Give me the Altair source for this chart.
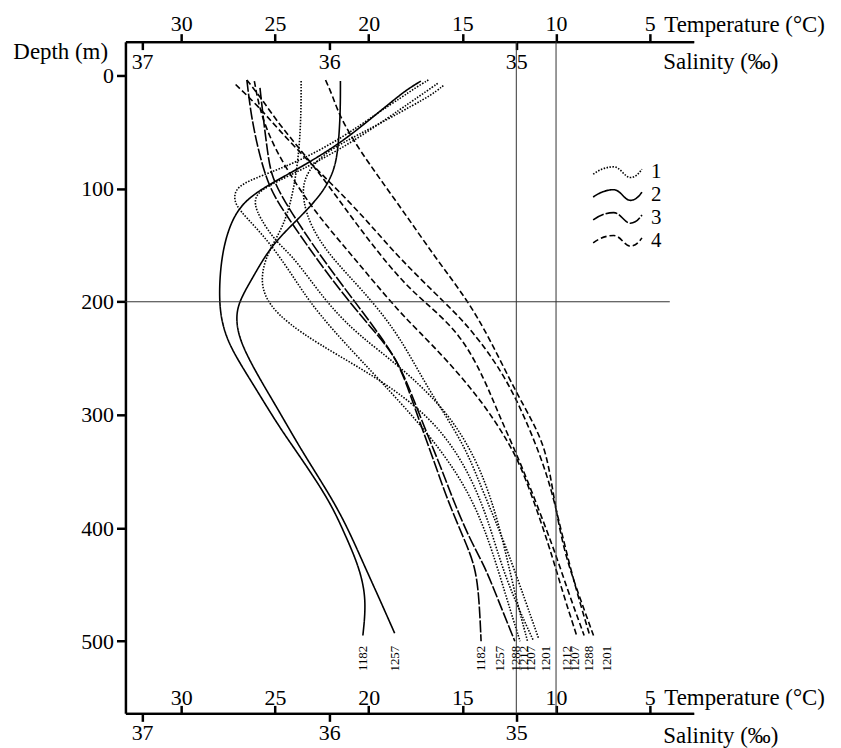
import altair as alt
import pandas as pd

FONT = "Liberation Serif"

# ---------------- frame (scale domains chosen to match the original frame) -------------
W, H = 571, 675
SAL_DOMAIN = [34.052, 37.089]     # drawn reversed (high salinity on the left)
TEMP_DOMAIN = [2.655, 32.98]      # drawn reversed
DEPTH_DOMAIN = [-29.9, 563.8]     # depth increases downward

# ---------------- tick values --------------------------------------------------------
depth_ticks = [0, 100, 200, 300, 400, 500]
temp_ticks = [30, 25, 20, 15, 10, 5]
sal_ticks = [37, 36, 35]

# ---------------- salinity profiles (‰) ------------------------------------------------
s1182_depth = [5, 12, 21, 40, 61, 82, 98, 113, 135, 164, 199, 222, 243, 272, 310, 331, 375, 404, 434, 463, 495]
s1182_sal = [35.51, 35.58, 35.65, 35.79, 35.95, 36.16, 36.34, 36.47, 36.54, 36.58, 36.59, 36.57, 36.52, 36.41, 36.27, 36.18, 36.00, 35.92, 35.84, 35.80, 35.82]

s1257_depth = [5, 32, 61, 84, 105, 126, 150, 179, 199, 214, 234, 263, 296, 331, 375, 404, 434, 463, 493]
s1257_sal = [35.94, 35.94, 35.95, 35.97, 36.04, 36.16, 36.31, 36.41, 36.48, 36.50, 36.48, 36.39, 36.27, 36.15, 35.98, 35.89, 35.81, 35.73, 35.65]

s1288_depth = [4, 11, 19, 33, 54, 76, 89, 97, 105, 115, 126, 142, 159, 181, 201, 225, 250, 287, 319, 353, 384, 419, 463, 500]
s1288_sal = [35.47, 35.54, 35.61, 35.74, 35.92, 36.16, 36.37, 36.48, 36.51, 36.50, 36.44, 36.35, 36.27, 36.18, 36.10, 35.98, 35.84, 35.63, 35.46, 35.31, 35.21, 35.13, 35.05, 34.98]

s1212_depth = [7, 14, 23, 38, 58, 76, 89, 98, 105, 114, 126, 146, 159, 181, 205, 230, 256, 296, 340, 381, 419, 463, 500]
s1212_sal = [35.42, 35.48, 35.56, 35.69, 35.87, 36.06, 36.22, 36.33, 36.39, 36.40, 36.37, 36.29, 36.20, 36.10, 35.99, 35.84, 35.63, 35.37, 35.21, 35.12, 35.06, 35.00, 34.94]

s1207_depth = [5, 32, 67, 102, 133, 159, 184, 203, 219, 237, 258, 280, 309, 348, 392, 445, 499]
s1207_sal = [36.15, 36.15, 36.16, 36.19, 36.24, 36.34, 36.37, 36.32, 36.22, 36.06, 35.84, 35.63, 35.42, 35.26, 35.15, 35.06, 34.91]

s1201_depth = [9, 18, 26, 39, 52, 64, 77, 93, 111, 133, 159, 190, 228, 278, 325, 363, 398, 432, 498]
s1201_sal = [35.39, 35.46, 35.55, 35.69, 35.84, 35.98, 36.08, 36.14, 36.14, 36.10, 36.00, 35.82, 35.63, 35.47, 35.28, 35.19, 35.10, 35.02, 34.88]

# ---------------- temperature profiles (°C) --------------------------------------------
t1182_depth = [4, 32, 58, 84, 106, 133, 164, 199, 230, 252, 296, 346, 375, 410, 434, 463, 500]
t1182_temp = [26.5, 26.3, 26.0, 25.6, 25.1, 24.0, 22.7, 21.1, 19.5, 18.4, 17.5, 16.4, 15.8, 14.9, 14.3, 14.1, 14.0]

t1257_depth = [11, 41, 67, 89, 111, 137, 168, 203, 234, 260, 304, 348, 375, 410, 434, 463, 500]
t1257_temp = [25.8, 25.6, 25.4, 25.2, 24.5, 23.5, 22.2, 20.6, 19.2, 18.2, 17.2, 16.1, 15.5, 14.6, 13.8, 13.1, 12.2]

t1201_depth = [4, 19, 34, 64, 114, 162, 199, 234, 278, 307, 333, 375, 419, 454, 495]
t1201_temp = [22.3, 21.9, 21.6, 20.6, 18.4, 16.4, 14.7, 13.5, 12.2, 11.2, 10.5, 10.1, 9.6, 8.9, 8.0]

t1288_depth = [8, 27, 48, 76, 102, 130, 161, 203, 223, 267, 328, 363, 390, 445, 495]
t1288_temp = [27.1, 25.9, 24.8, 23.2, 21.6, 20.0, 18.4, 15.8, 14.6, 12.6, 11.0, 10.3, 9.9, 9.1, 8.2]

t1207_depth = [4, 23, 43, 84, 133, 179, 199, 228, 269, 298, 331, 363, 419, 454, 495]
t1207_temp = [26.5, 25.6, 24.8, 22.7, 20.6, 18.4, 17.1, 15.1, 13.8, 13.1, 12.2, 11.4, 10.1, 9.4, 8.5]

t1212_depth = [5, 32, 62, 93, 124, 155, 181, 208, 225, 252, 287, 322, 351, 419, 454, 495]
t1212_temp = [26.1, 25.8, 25.1, 24.0, 22.7, 21.1, 19.8, 18.4, 17.4, 15.8, 14.0, 12.6, 11.7, 10.3, 9.7, 8.9]

# ---------------- station labels under the curve ends ----------------------------------
sal_label_text = ["1182", "1257", "1288", "1212", "1207", "1201"]
sal_label_pos = [35.82, 35.65, 35.00, 34.96, 34.92, 34.84]
temp_label_text = ["1182", "1257", "1212", "1207", "1288", "1201"]
temp_label_pos = [14.02, 13.01, 9.40, 8.97, 8.23, 7.28]
label_depth = 504

# reference lines
ref_sal = 35
ref_temp = 10
ref_depth = 200
ref_depth_end_temp = 3.93

# ---------------- tables ---------------------------------------------------------------
def rows(station, kind, depths, values, col):
    return [{"station": station, "type": kind, "depth": d, col: v} for d, v in zip(depths, values)]

sal_rows = (rows("1182", "2", s1182_depth, s1182_sal, "sal") + rows("1257", "2", s1257_depth, s1257_sal, "sal")
            + rows("1288", "1", s1288_depth, s1288_sal, "sal") + rows("1212", "1", s1212_depth, s1212_sal, "sal")
            + rows("1207", "1", s1207_depth, s1207_sal, "sal") + rows("1201", "1", s1201_depth, s1201_sal, "sal"))
temp_rows = (rows("1182", "3", t1182_depth, t1182_temp, "temp") + rows("1257", "3", t1257_depth, t1257_temp, "temp")
             + rows("1201", "4", t1201_depth, t1201_temp, "temp") + rows("1288", "4", t1288_depth, t1288_temp, "temp")
             + rows("1207", "4", t1207_depth, t1207_temp, "temp") + rows("1212", "4", t1212_depth, t1212_temp, "temp"))
sal_df = pd.DataFrame(sal_rows)
temp_df = pd.DataFrame(temp_rows)
sal_lab_df = pd.DataFrame({"label": sal_label_text, "sal": sal_label_pos, "depth": [label_depth] * 6})
temp_lab_df = pd.DataFrame({"label": temp_label_text, "temp": temp_label_pos, "depth": [label_depth] * 6})

# ---------------- encodings ------------------------------------------------------------
common_axis = dict(labelFont=FONT, labelFontSize=22, titleFont=FONT, titleFontSize=23,
                   titleFontWeight="normal", domainColor="black", domainWidth=2.5,
                   tickColor="black", tickWidth=2.5, tickSize=8, labelColor="black",
                   titleColor="black", grid=False, labelFlush=False, labelOverlap=False)

axis_sal_bottom = alt.Axis(orient="bottom", values=sal_ticks, format="d", labelPadding=1,
                           title="Salinity (‰)", titleX=540, titleY=29, titleAlign="left",
                           titleBaseline="alphabetic", **common_axis)
axis_sal_top = alt.Axis(orient="bottom", offset=-H, values=sal_ticks, format="d", labelPadding=2,
                        title="Salinity (‰)", titleX=540, titleY=27, titleAlign="left",
                        titleBaseline="alphabetic", **common_axis)
axis_temp_top = alt.Axis(orient="top", values=temp_ticks, format="d", labelPadding=-2,
                         title="Temperature (°C)", titleX=541, titleY=-10, titleAlign="left",
                         titleBaseline="alphabetic", **common_axis)
axis_temp_bottom = alt.Axis(orient="top", offset=-H, values=temp_ticks, format="d", labelPadding=-4,
                            title="Temperature (°C)", titleX=541, titleY=-9, titleAlign="left",
                            titleBaseline="alphabetic", **common_axis)
axis_depth = alt.Axis(orient="left", values=depth_ticks, format="d", labelPadding=3,
                      title="Depth (m)", titleAngle=0, titleX=-18, titleY=17, titleAlign="right",
                      titleBaseline="alphabetic",
                      **{**common_axis, "tickSize": 9})


def xs(field, axis=None):
    return alt.X(field, type="quantitative",
                 scale=alt.Scale(domain=SAL_DOMAIN, reverse=True, nice=False, zero=False), axis=axis)


def xt(field, axis=None):
    return alt.X(field, type="quantitative",
                 scale=alt.Scale(domain=TEMP_DOMAIN, reverse=True, nice=False, zero=False), axis=axis)


def yd(field="depth"):
    # every layer carries the same depth axis so the shared axis merges cleanly
    return alt.Y(field, type="quantitative",
                 scale=alt.Scale(domain=DEPTH_DOMAIN, reverse=True, nice=False, zero=False),
                 axis=axis_depth)


SQUIGGLE = ("M-4.9,0.34 C-3.6,-0.6 -2.2,-1.14 -0.78,-1.14 "
            "C0.6,-1.14 1.4,1.0 2.56,1.0 C3.6,1.0 4.3,0.2 4.9,-0.66")
legend = alt.Legend(orient="none", legendX=484, legendY=121, title=None, symbolType=SQUIGGLE,
                    symbolSize=100, symbolStrokeWidth=1.6, symbolStrokeColor="black",
                    symbolFillColor="transparent", labelFont=FONT, labelFontSize=21,
                    labelColor="black", labelOffset=23, rowPadding=1, padding=0,
                    labelBaseline="middle")
dash = alt.StrokeDash("type:N",
                      scale=alt.Scale(domain=["1", "2", "3", "4"],
                                      range=[[1.5, 1.5], [1, 0], [12, 2], [6, 3]]),
                      legend=legend)

# ---------------- layers ---------------------------------------------------------------
sal_rule = alt.Chart(pd.DataFrame({"sal": [ref_sal]})).mark_rule(color="#333", strokeWidth=1).encode(
    x=xs("sal", axis_sal_top))
temp_rule = alt.Chart(pd.DataFrame({"temp": [ref_temp]})).mark_rule(color="#333", strokeWidth=1).encode(
    x=xt("temp", axis_temp_bottom))
h_rule = alt.Chart(pd.DataFrame({"depth": [ref_depth], "t0": [TEMP_DOMAIN[1]], "t1": [ref_depth_end_temp]})
                   ).mark_rule(color="#333", strokeWidth=1).encode(
    x=xt("t0"), x2="t1", y=yd("depth"))

sal_lines = alt.Chart(sal_df).mark_line(color="black", strokeWidth=1.6, interpolate="basis").encode(
    x=xs("sal", axis_sal_bottom), y=yd("depth"), detail="station:N",
    strokeDash=dash, order=alt.Order("depth:Q"))
temp_lines = alt.Chart(temp_df).mark_line(color="black", strokeWidth=1.6, interpolate="basis").encode(
    x=xt("temp", axis_temp_top), y=yd("depth"), detail="station:N",
    strokeDash=dash, order=alt.Order("depth:Q"))

sal_labels = alt.Chart(sal_lab_df).mark_text(angle=270, align="right", baseline="middle", font=FONT,
                                              fontSize=13, color="black").encode(
    x=xs("sal"), y=yd("depth"), text="label:N")
temp_labels = alt.Chart(temp_lab_df).mark_text(angle=270, align="right", baseline="middle", font=FONT,
                                                fontSize=13, color="black").encode(
    x=xt("temp"), y=yd("depth"), text="label:N")

chart = alt.layer(sal_lines, temp_lines, sal_rule, temp_rule, h_rule, sal_labels, temp_labels).resolve_scale(
    x="independent").properties(
    width=W, height=H, autosize="none",
    padding={"left": 118, "top": 32, "right": 140, "bottom": 33},
    background="white").configure_view(stroke=None)

chart.save("out.html", embed_options={"renderer": "svg", "actions": False})
